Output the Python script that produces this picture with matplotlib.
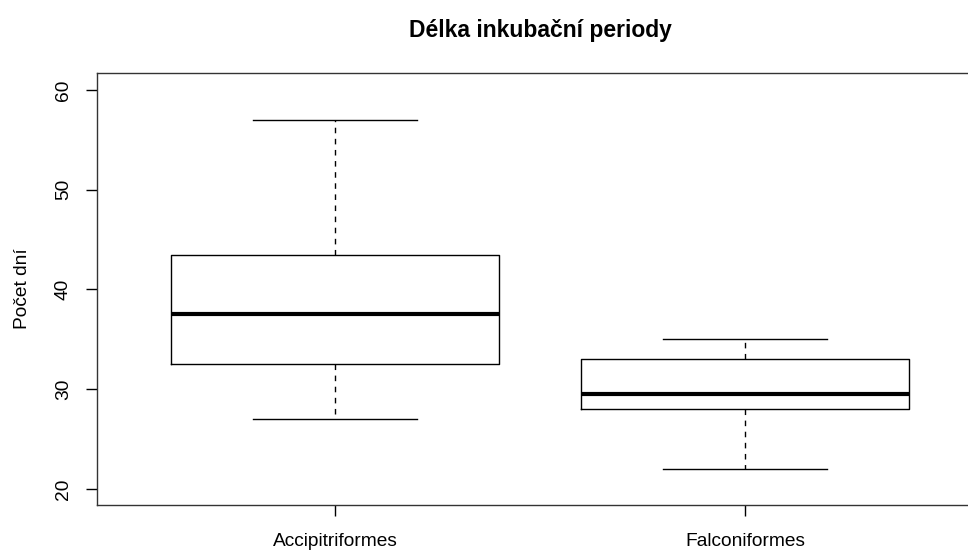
import matplotlib
matplotlib.use("Agg")
import matplotlib.pyplot as plt

plt.rcParams['font.family'] = ['Liberation Sans', 'DejaVu Sans']

# five-number summaries
groups = ["Accipitriformes", "Falconiformes"]
whis_lo = [27, 22]
q1 = [32.5, 28]
median = [37.5, 29.5]
q3 = [43.5, 33]
whis_hi = [57, 35]
yticks = [20, 30, 40, 50, 60]

stats = []
for i, g in enumerate(groups):
    stats.append(dict(label=g, whislo=whis_lo[i], q1=q1[i], med=median[i],
                      q3=q3[i], whishi=whis_hi[i], fliers=[]))

fig = plt.figure(figsize=(9.68, 5.5), dpi=100)
W, H = 968, 550
ax = fig.add_axes([97 / W, 1 - 505 / H, (983 - 97) / W, (505 - 73) / H])

ax.bxp(stats, positions=[1, 2], widths=0.8, showfliers=False,
       boxprops=dict(color='black', linewidth=1),
       medianprops=dict(color='black', linewidth=3, solid_capstyle='butt'),
       whiskerprops=dict(color='black', linewidth=1, linestyle=(0, (4, 4))),
       capprops=dict(color='black', linewidth=1),
       capwidths=0.4)

ax.set_xlim(0.42, 2.58)
ax.set_ylim(18.4, 61.7)
ax.set_yticks(yticks)
ax.set_yticklabels([str(t) for t in yticks], rotation=90, va='center')
ax.set_xticks([1, 2])
ax.set_xticklabels(groups)
ax.tick_params(axis='both', direction='out', length=8, width=1, labelsize=13.8,
               colors='black')
ax.tick_params(axis='x', pad=12)
ax.tick_params(axis='y', pad=10)
for s in ax.spines.values():
    s.set_color('#333333')
    s.set_linewidth(1)

ax.set_ylabel("Počet dní", fontsize=13.8, labelpad=17)
fig.text(540 / W, 1 - 30 / H, "Délka inkubační periody", ha='center',
         va='center', fontsize=16.5, fontweight='bold')

fig.savefig("out.png", dpi=100)
